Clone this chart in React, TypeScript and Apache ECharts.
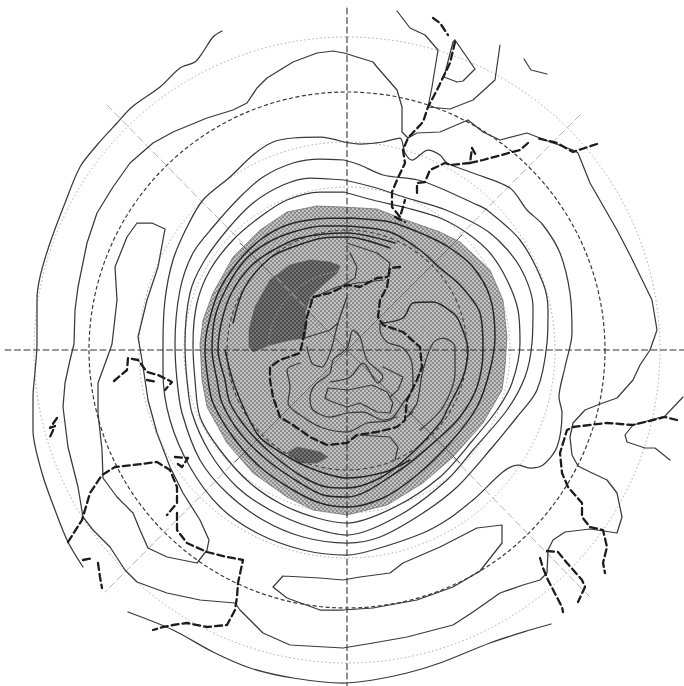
import React, { useEffect, useRef } from "react";
import * as echarts from "echarts";

type P = [number, number];

const latitudeRadii = [39, 79, 163, 208, 313];
const darkerRadii = [120];
const mainCircleRadius = [258];
const pole: P = [347, 350];
const axisH: P[] = [[5, 350], [684, 350]];
const axisV: P[] = [[347, 8], [347, 686]];
const diagA: P[] = [[107, 105], [590, 597]];
const diagB: P[] = [[580, 115], [105, 592]];
const diagInnerA: P[] = [[240, 243], [347, 350], [460, 463]];
const diagInnerB: P[] = [[462, 235], [347, 350], [235, 462]];

const shadedArea: P[] = [[344,207],[377,209],[403,219],[440,232],[460,242],[490,270],[503,300],[507,337],[505,367],[502,390],[483,423],[453,457],[423,483],[387,505],[347,515],[313,510],[287,497],[253,473],[227,443],[207,407],[202,380],[200,344],[203,320],[213,293],[233,257],[260,230],[287,212],[317,206]];
const darkBig: P[] = [[340,266],[330,262],[310,260],[290,265],[270,280],[255,307],[249,330],[249,347],[253,352],[270,345],[290,340],[305,338],[307,323],[305,313],[310,297],[323,285],[337,273]];
const darkSmall: P[] = [[287,453],[297,447],[320,452],[328,457],[317,463],[300,463]];

const ringH: P[] = [[344,192],[373,200],[407,208],[440,218],[467,233],[490,253],[507,280],[518,310],[520,343],[512,383],[497,410],[473,440],[440,477],[395,507],[347,523],[317,518],[283,505],[250,483],[220,450],[200,417],[195,380],[193,344],[197,303],[210,270],[233,240],[260,217],[287,200],[320,192]];
const ringG: P[] = [[344,180],[373,187],[407,198],[446,210],[490,233],[520,267],[533,307],[532,343],[525,377],[507,410],[473,450],[447,480],[400,515],[347,535],[310,527],[270,510],[237,487],[210,453],[192,413],[187,380],[185,344],[190,293],[203,263],[227,230],[253,203],[283,185],[310,178]];
const ringF: P[] = [[344,160],[360,165],[383,175],[418,180],[440,188],[473,203],[487,210],[520,240],[543,283],[548,310],[547,343],[537,390],[517,417],[490,450],[457,487],[423,513],[380,537],[347,543],[303,537],[263,520],[227,493],[200,460],[182,413],[177,380],[175,344],[180,290],[193,253],[213,227],[240,197],[263,177],[293,163],[320,159]];
const ringE: P[] = [[344,142],[360,144],[383,142],[400,138],[405,153],[412,160],[428,150],[440,155],[447,163],[473,173],[510,188],[527,210],[543,225],[560,253],[570,293],[572,333],[565,367],[559,397],[562,413],[557,447],[543,465],[530,468],[518,465],[473,500],[450,518],[423,533],[373,550],[347,555],[303,550],[257,533],[220,507],[190,467],[170,420],[163,373],[163,344],[165,300],[173,260],[187,227],[203,200],[230,177],[253,155],[273,142],[293,138],[320,137]];
const ringC: P[] = [[344,53],[357,57],[373,62],[377,67],[397,90],[402,107],[402,132],[408,138],[417,133],[440,132],[468,120],[483,132],[500,140],[527,133],[540,138],[553,143],[573,150],[578,153],[590,183],[617,230],[630,255],[652,300],[657,330],[650,350],[640,365],[633,380],[617,398],[600,404],[585,410],[573,423],[570,437],[572,455],[578,466],[590,472],[607,480],[617,493],[622,517],[617,533],[590,529],[565,532],[553,540],[548,550],[547,573],[540,580],[523,585],[500,593],[473,612],[453,625],[407,637],[373,643],[343,648],[290,645],[263,633],[240,610],[235,603],[200,600],[167,593],[137,582],[125,570],[110,547],[93,530],[83,517],[78,487],[68,447],[63,407],[65,383],[70,360],[74,344],[75,310],[78,287],[87,243],[97,213],[113,187],[130,163],[153,143],[173,132],[207,118],[233,110],[247,103],[257,88],[267,78],[293,62],[317,53],[333,51]];
const loopWest: P[] = [[137,223],[152,223],[165,229],[158,267],[147,300],[138,337],[142,360],[148,400],[157,433],[170,467],[183,493],[200,520],[209,540],[207,550],[197,563],[167,557],[148,548],[140,530],[133,513],[117,497],[103,478],[102,450],[98,413],[98,383],[110,350],[112,344],[117,300],[115,267],[127,237]];
const loopSouth: P[] = [[283,576],[273,587],[287,598],[320,610],[343,610],[373,608],[417,600],[453,587],[480,571],[502,543],[502,525],[477,528],[440,547],[403,563],[390,573],[360,577],[343,580],[320,578]];

const outerWest: P[] = [[222,31],[213,37],[203,52],[195,62],[180,68],[160,87],[132,107],[117,123],[97,145],[80,167],[65,203],[50,243],[40,277],[37,300],[37,344],[35,372],[33,397],[33,430],[42,473],[55,510],[68,542],[83,567]];
const outerSouth: P[] = [[128,612],[173,630],[213,652],[250,668],[293,678],[343,683],[373,680],[407,673],[440,663],[490,643],[530,630],[551,624]];
const northA: P[] = [[397,11],[410,28],[425,35],[438,50],[432,87],[428,107],[450,109],[473,100],[495,80],[500,45]];
const northTriangle: P[] = [[455,40],[475,69],[463,81],[457,82],[444,77],[453,42]];
const northSmall: P[] = [[524,59],[531,70],[547,74]];
const eastSmall: P[] = [[683,397],[665,416],[633,425],[625,435],[627,442],[645,448],[655,448],[670,460]];

const inner1: P[] = [[347,218],[390,222],[425,235],[450,248],[473,267],[490,297],[495,337],[490,370],[477,407],[450,443],[417,475],[383,498],[347,507],[320,503],[293,490],[260,467],[233,437],[213,403],[208,380],[205,350],[207,330],[218,293],[237,263],[260,240],[287,225],[317,219]];
const inner2: P[] = [[347,226],[390,232],[420,250],[440,268],[460,285],[480,313],[483,350],[477,387],[460,417],[440,437],[400,470],[347,497],[323,495],[300,483],[267,460],[240,433],[222,403],[217,380],[212,350],[215,317],[227,287],[245,260],[267,243],[293,232],[323,226]];
const inner3: P[] = [[395,243],[347,233],[300,238],[270,252],[250,267],[232,292],[222,320],[218,350],[225,380],[230,403],[248,430],[273,455],[303,477],[327,487],[347,488],[380,478],[410,455],[440,423],[447,410],[463,377],[468,350],[460,323],[453,313],[433,302],[413,303],[403,318],[383,323]];
const inner4: P[] = [[225,350],[235,387],[258,435],[280,452],[310,468],[347,478],[385,472],[410,460]];
const inner4Top: P[] = [[233,323],[245,287],[270,258],[293,247],[323,238],[347,237],[390,248]];
const lobeEast: P[] = [[420,430],[443,407],[455,373],[455,347],[443,338],[433,343],[423,370],[417,403],[410,413],[407,417],[413,412]];
const upperBumpA: P[] = [[347,243],[377,253],[390,263],[388,275]];
const upperBumpB: P[] = [[350,253],[357,267],[355,278],[340,287]];
const upperBumpC: P[] = [[310,300],[323,293],[337,287],[357,283],[383,280]];
const winding: P[] = [[300,363],[287,370],[290,387],[288,403],[303,417],[323,428],[347,432],[367,423],[390,420],[403,403],[413,387],[412,363],[403,348],[387,342],[380,330],[380,323]];
const lobeCentre: P[] = [[307,347],[312,363],[322,367],[330,353],[338,323],[347,297]];
const lobeLink: P[] = [[305,338],[330,330],[338,323]];
const coreInner: P[] = [[325,398],[328,388],[348,390],[372,385],[387,392],[393,403],[390,413],[377,412],[360,403],[347,407],[330,401]];
const coreMiddle: P[] = [[330,382],[350,377],[363,363],[378,383],[383,377],[367,360],[360,337],[353,330],[347,348],[333,360],[330,373],[315,385],[310,398],[313,410],[330,417],[347,413],[363,412],[383,420],[397,417]];
const coreEast: P[] = [[383,367],[403,377],[398,390],[390,397]];
const southLobe: P[] = [[360,435],[390,437],[398,447],[395,460]];

const coastInner: P[] = [[400,267],[390,268],[387,287],[380,300],[378,317],[383,325],[403,332],[420,347],[422,367],[417,380],[407,400],[405,420],[397,427],[377,432],[357,435],[347,443],[327,445],[310,437],[293,425],[280,417],[273,397],[270,380],[270,367],[280,360],[300,353],[303,340],[307,317],[313,297],[330,293],[347,285],[360,287],[377,278],[387,277]];
const coastN1: P[] = [[433,18],[440,23],[448,35]];
const coastN2: P[] = [[455,42],[450,63],[437,90],[428,107],[423,122],[408,138],[403,150],[405,163],[397,180],[392,192],[392,207],[400,217],[405,200]];
const coastN3: P[] = [[395,217],[405,222]];
const coastNE1: P[] = [[597,144],[573,152],[557,143],[537,138]];
const coastNE2: P[] = [[528,143],[520,150],[483,160],[470,163],[472,148],[477,157]];
const coastNE3: P[] = [[470,163],[450,165],[445,163],[430,170],[425,182],[417,183],[417,195]];
const coastE1: P[] = [[677,420],[665,417],[633,425],[607,423],[573,427],[567,430],[560,453],[562,473],[568,487],[582,503],[582,517],[590,527],[603,530],[607,547],[603,563],[605,573]];
const coastE2: P[] = [[547,551],[558,552],[567,563],[582,580],[585,587],[578,602]];
const coastE3: P[] = [[540,558],[543,568],[548,580],[562,607],[563,612]];
const coastW1: P[] = [[114,381],[127,370],[128,358],[138,360],[147,372],[158,375],[172,382],[165,390]];
const coastW1b: P[] = [[147,380],[157,382]];
const coastW2: P[] = [[57,418],[50,428],[55,426],[50,437]];
const coastW3: P[] = [[68,542],[82,520],[90,493],[102,475],[115,467],[133,465],[157,462],[170,470],[177,487],[177,503],[167,515]];
const coastW3b: P[] = [[177,513],[177,530],[187,543],[207,552],[227,557],[243,560],[238,583],[237,597],[235,610],[227,625],[207,627],[187,623],[173,625],[163,627],[153,630]];
const coastW4: P[] = [[175,457],[188,458],[182,467],[175,462]];
const coastW5: P[] = [[83,560],[93,558]];
const coastW6: P[] = [[98,563],[100,577],[102,588]];

const closed = (p: P[]): P[] => [...p, p[0]];

const smoothClosed = [ringH, ringG, ringF, ringE, inner1, inner2];
const plainClosed = [ringC, loopWest, loopSouth, northTriangle, coreInner];
const smoothOpen = [inner3, inner4, inner4Top, outerWest, outerSouth, lobeEast, winding, lobeCentre, coreMiddle];
const plainOpen = [northA, northSmall, eastSmall, upperBumpA, upperBumpB, upperBumpC, lobeLink, coreEast, southLobe];
const coasts = [coastInner, coastN1, coastN2, coastN3, coastNE1, coastNE2, coastNE3, coastE1, coastE2, coastE3, coastW1, coastW1b, coastW2, coastW3, coastW3b, coastW4, coastW5, coastW6];

function dither(a: string, b: string) {
  const c = document.createElement("canvas");
  c.width = 4;
  c.height = 4;
  const g = c.getContext("2d")!;
  g.fillStyle = a;
  g.fillRect(0, 0, 4, 4);
  g.fillStyle = b;
  g.fillRect(0, 0, 2, 2);
  g.fillRect(2, 2, 2, 2);
  return { image: c, repeat: "repeat" };
}

function polygonSeries(points: P[], fill: any) {
  return {
    type: "custom",
    coordinateSystem: "cartesian2d",
    silent: true,
    data: [[0, 0]],
    renderItem: (_: any, api: any) => ({
      type: "polygon",
      shape: { points: points.map((p) => api.coord(p)) },
      style: { fill, stroke: "#555", lineWidth: 0.6 },
    }),
  };
}

function circleSeries(radii: number[], stroke: string, width: number, dash: number[]) {
  return {
    type: "custom",
    coordinateSystem: "cartesian2d",
    silent: true,
    data: radii.map((r) => [pole[0], pole[1], r]),
    renderItem: (_: any, api: any) => {
      const c = api.coord([api.value(0), api.value(1)]);
      const edge = api.coord([api.value(0) + api.value(2), api.value(1)]);
      return {
        type: "circle",
        shape: { cx: c[0], cy: c[1], r: edge[0] - c[0] },
        style: { fill: "none", stroke, lineWidth: width, lineDash: dash },
      };
    },
  };
}

function lineSeries(points: P[], color: string, width: number, dash: any = "solid", smooth: number | boolean = false) {
  return {
    type: "line",
    data: points,
    showSymbol: false,
    symbol: "none",
    silent: true,
    smooth,
    lineStyle: { color, width, type: dash, cap: "round", join: "round" },
  };
}

const contourColor = "#3a3a3a";
const innerColor = "#262626";

export default function App() {
  const ref = useRef<HTMLDivElement>(null);
  useEffect(() => {
    const chart = echarts.init(ref.current!, undefined, { renderer: "svg" });
    const series: any[] = [
      polygonSeries(shadedArea, dither("#8c8c8c", "#c2c2c2")),
      polygonSeries(darkBig, dither("#4c4c4c", "#747474")),
      polygonSeries(darkSmall, dither("#4c4c4c", "#747474")),
      circleSeries(latitudeRadii, "#a8a8a8", 1, [1.5, 2.5]),
      circleSeries(darkerRadii, "#444", 1.1, [4, 3]),
      circleSeries(mainCircleRadius, "#3a3a3a", 1.2, [4, 2.5]),
      lineSeries(diagA, "#b4b4b4", 1, [7, 4]),
      lineSeries(diagB, "#b4b4b4", 1, [7, 4]),
      lineSeries(diagInnerA, "#666", 1),
      lineSeries(diagInnerB, "#666", 1),
      lineSeries(axisH, "#333", 1.1, [6, 3.5]),
      lineSeries(axisV, "#333", 1.1, [6, 3.5]),
      ...smoothClosed.map((c, i) => lineSeries(closed(c), i > 3 ? innerColor : contourColor, i > 3 ? 1.5 : 1.25, "solid", 0.3)),
      ...plainClosed.map((c) => lineSeries(closed(c), contourColor, 1.25)),
      ...smoothOpen.map((c, i) => lineSeries(c, i < 3 ? innerColor : contourColor, i < 3 ? 1.5 : 1.25, "solid", 0.3)),
      ...plainOpen.map((c) => lineSeries(c, contourColor, 1.2)),
      ...coasts.map((c) => lineSeries(c, "#1c1c1c", 2.3, [7, 4])),
    ];
    chart.setOption({
      animation: false,
      backgroundColor: "#fff",
      grid: { left: 0, right: 0, top: 0, bottom: 0 },
      xAxis: { type: "value", min: 0, max: 684, show: false },
      yAxis: { type: "value", min: 0, max: 686, inverse: true, show: false },
      series,
    });
    return () => chart.dispose();
  }, []);
  return <div ref={ref} style={{ position: "fixed", left: 0, top: 0, width: 684, height: 686 }} />;
}
